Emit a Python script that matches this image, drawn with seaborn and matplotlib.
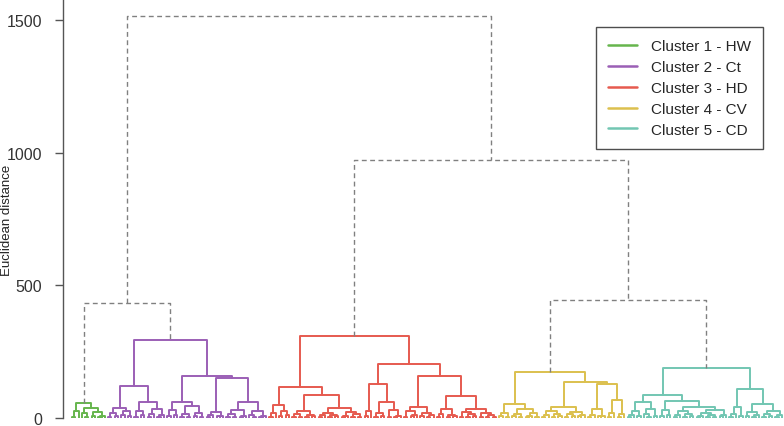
import matplotlib
matplotlib.use('Agg')

import pandas as pd
import seaborn as sns
import matplotlib.pyplot as plt
from matplotlib.lines import Line2D

# Dendrogram data: merge heights written as nested (left,right)height strings,
# 'x' is one observation (leaf)
TOP_TREE = "((C1,C2)433,(C3,(C4,C5)446)972)1515"

CLUSTER_TREES = {
    "C1": "(((x,x)5,x)28,((x,(x,x)4)18,((x,x)6,((x,x)3,x)9)22)38)57",
    "C2": "(((((x,x)4,(x,x)8)20,((x,x)12,(x,x)6)25)38,"
          "(((x,x)5,(x,x)10)28,(((x,x)4,x)15,((x,x)3,x)12)35)60)122,"
          "((((x,x)6,(x,x)12)30,(((x,x)5,(x,x)3)14,((x,x)8,(x,x)4)20)45)62,"
          "((((x,x)4,x)10,((x,x)6,x)8)23,"
          "((((x,x)3,(x,x)5)14,((x,x)4,x)9)30,((x,(x,x)3)12,((x,x)5,x)8)25)60)152)158)294",
    "C3": "(((((x,x)4,x)20,((x,x)6,(x,x)10)25)49,"
          "((((x,x)3,(x,x)5)15,((x,x)4,(x,x)6)12)28,"
          "((((x,x)4,x)10,((x,x)3,(x,x)6)12)20,(((x,x)5,x)8,((x,x)3,(x,x)4)14)22)38)87)117,"
          "((((x,x)8,x)28,(((x,x)4,(x,x)7)20,((x,x)5,((x,x)3,x)9)30)60)128,"
          "((((x,x)4,((x,x)6,x)12)25,((x,x)8,((x,x)4,x)10)20)40,"
          "((((x,x)5,x)15,((x,x)4,(x,x)8)12)34,"
          "(((x,x)4,((x,x)3,(x,x)6)14)22,((x,x)5,((x,x)4,(x,x)2)12)18)34)83)158)204)310",
    "C4": "((((x,x)8,(x,x)4)20,(((x,x)6,(x,x)3)14,(((x,x)4,x)9,(x,x)5)18)34)53,"
          "(((((x,x)5,x)10,((x,x)3,(x,x)7)15)25,(((x,x)4,(x,x)8)14,((x,x)6,x)10)22)41,"
          "((((x,x)4,x)12,((x,x)6,x)9)34,(((x,x)5,x)20,((x,x)3,x)15)66)128)135)173",
    "C5": "((((((x,x)4,x)12,(x,x)7)25,((x,(x,x)5)15,(x,x)9)34)62,"
          "(((x,x)6,(x,x)10)30,((((x,x)5,x)12,((x,x)3,(x,x)6)14)25,"
          "((((x,x)4,x)9,((x,x)5,(x,x)2)11)18,((x,x)6,x)13)30)43)65)88,"
          "((((x,x)4,x)14,(x,x)8)41,"
          "(((x,x)6,((x,x)3,x)10)22,(((x,x)4,(x,x)7)15,((x,x)5,x)11)28)53)109)188",
}

CLUSTER_LABELS = ["Cluster 1 - HW", "Cluster 2 - Ct", "Cluster 3 - HD",
                  "Cluster 4 - CV", "Cluster 5 - CD"]
CLUSTER_COLORS = ["#66b54d", "#9b5fb5", "#e65a4f", "#dcc04e", "#72c6b2"]
Y_TICKS = [0, 500, 1000, 1500]


def parse(s, i=0):
    """Tiny parser for the (left,right)height strings"""
    if s[i] == '(':
        left, i = parse(s, i + 1)
        right, i = parse(s, i + 1)
        i += 1  # closing bracket
        j = i
        while j < len(s) and (s[j].isdigit() or s[j] == '.'):
            j += 1
        return (float(s[i:j]), left, right), j
    j = i
    while j < len(s) and s[j] not in ',()':
        j += 1
    return s[i:j], j


rows = []
leaf_count = [0]
seg_count = [0]


def walk(node, group):
    if isinstance(node, str):
        if node in CLUSTER_TREES:
            sub, _ = parse(CLUSTER_TREES[node])
            return walk(sub, node)
        x = leaf_count[0]
        leaf_count[0] += 1
        return x, 0.0
    h, left, right = node
    xl, hl = walk(left, group)
    xr, hr = walk(right, group)
    seg = seg_count[0]
    seg_count[0] += 1
    for px, py in [(xl, hl), (xl, h), (xr, h), (xr, hr)]:
        rows.append({'seg': seg, 'x': px, 'y': py, 'group': group})
    return (xl + xr) / 2.0, h


top, _ = parse(TOP_TREE)
walk(top, 'top')
n_leaves = leaf_count[0]

segs = pd.DataFrame(rows)

sns.set_style('white')
plt.rcParams['font.family'] = ['Liberation Sans', 'DejaVu Sans']

fig = plt.figure(figsize=(7.84, 4.27), dpi=100)
ax = fig.add_axes([63 / 784, 8 / 427, 721 / 784, 419 / 427])

palette = dict(zip(['C1', 'C2', 'C3', 'C4', 'C5'], CLUSTER_COLORS))
sns.lineplot(
    data=segs[segs['group'] != 'top'],
    x='x', y='y', hue='group', palette=palette,
    units='seg', estimator=None, sort=False,
    linewidth=1.4, legend=False, ax=ax
)
n_before = len(ax.lines)
sns.lineplot(
    data=segs[segs['group'] == 'top'],
    x='x', y='y', units='seg', estimator=None, sort=False,
    color='#808080', linewidth=1.0, legend=False, ax=ax
)
# the links above the five clusters are dashed
for line in ax.lines[n_before:]:
    line.set_linestyle((0, (3.5, 2.5)))

# leaves from px 72 to 782
step = 710.0 / (n_leaves - 1)
ax.set_xlim(-(72 - 63) / step, (n_leaves - 1) + 2 / step)
ax.set_ylim(0, 1580)
ax.set_yticks(Y_TICKS)
ax.set_yticklabels([str(t) for t in Y_TICKS])
ax.set_xticks([])
ax.set_xlabel('')
ax.set_ylabel('Euclidean distance', fontsize=9.5, color='#222222')
ax.yaxis.set_label_coords((13 - 63) / 721, (419 - 220) / 419)
ax.tick_params(axis='y', direction='out', length=6, width=1, pad=9,
               labelsize=11.5, labelcolor='#333333', color='#555555', left=True)
for side in ['top', 'right', 'bottom']:
    ax.spines[side].set_visible(False)
ax.spines['left'].set_color('#555555')
ax.spines['left'].set_linewidth(1)

handles = [Line2D([0], [0], color=c, lw=1.8) for c in CLUSTER_COLORS]
leg = ax.legend(handles, CLUSTER_LABELS, loc='upper left',
                bbox_to_anchor=(596 / 784, 1 - 28 / 427),
                bbox_transform=fig.transFigure, fontsize=11,
                frameon=True, fancybox=False, handlelength=1.9,
                handletextpad=0.9, labelspacing=0.45, borderpad=0.8,
                borderaxespad=0)
leg.get_frame().set_edgecolor('#222222')
leg.get_frame().set_linewidth(1.0)

fig.savefig('out.png', dpi=100)
